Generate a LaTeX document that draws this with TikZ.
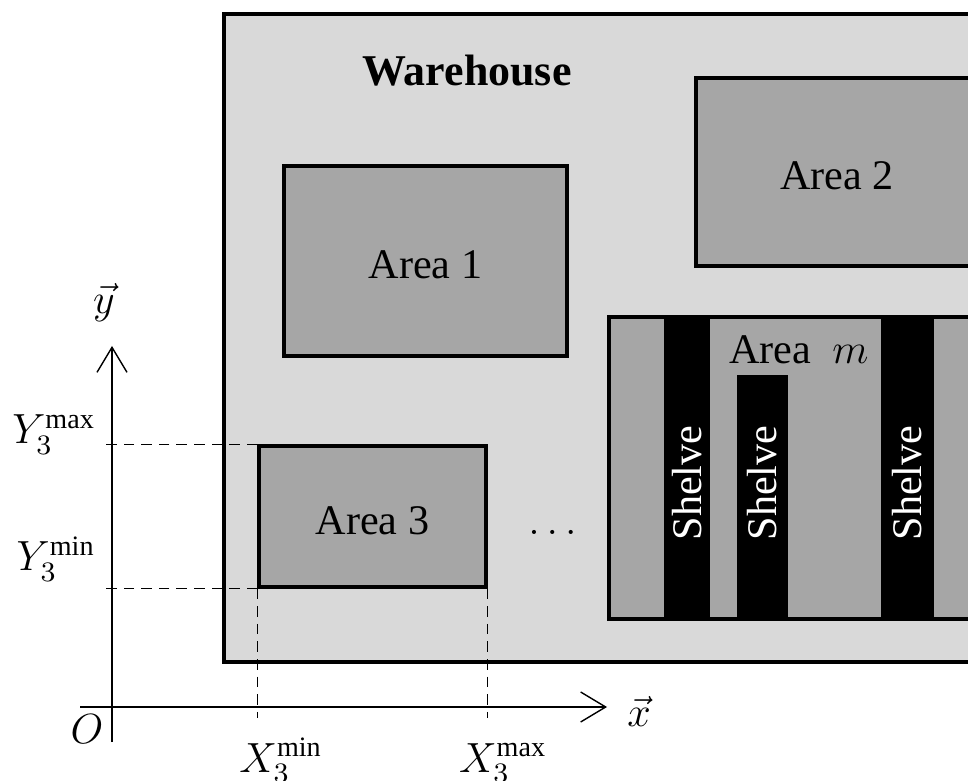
\documentclass[tikz,border=0pt]{standalone}
\usepackage{amsmath,amssymb}
\usepackage{fontspec}
\setmainfont{Liberation Serif}
\usepackage{tikz}
\usetikzlibrary{positioning,arrows.meta,calc}
\definecolor{hallgray}{RGB}{217,217,217}
\definecolor{zonegray}{RGB}{166,166,166}

\begin{document}
\begin{tikzpicture}[font=\fontsize{12}{14}\selectfont,
    zone/.style={draw=black, line width=1pt, fill=zonegray, inner sep=0pt, text height=1em, text depth=0pt},
    shelfbar/.style={fill=black, draw=none},
    shelflabel/.style={rotate=90, text=white},
    axis/.style={-{Straight Barb[length=2.5mm, width=3mm, line width=0.4pt]}, line width=0.4pt},
    guide/.style={dashed, line width=0.3pt, dash pattern=on 3pt off 2pt}]
  \useasboundingbox (0,0) rectangle (9.68,7.8);
  % entrepot
  \draw[line width=1.3pt, fill=hallgray] (2.24,1.18) rectangle (10.5,7.66);
  \node[font=\fontsize{12.5}{14}\selectfont\bfseries] (wh) at (4.67,7.09) {Warehouse};
  % zones
  \node[zone, minimum width=2.83cm, minimum height=1.90cm] (a1) at (4.255,5.19) {Area 1};
  \node[zone, minimum width=2.82cm, minimum height=1.88cm] (a2) at (8.37,6.08) {Area 2};
  \node[zone, minimum width=2.27cm, minimum height=1.41cm] (a3) at (3.725,2.635) {Area 3};
  \node (dots) at (5.56,2.48) {$\dots$};
  % zone m avec etageres
  \draw[zone] (6.09,1.61) rectangle (10.5,4.63);
  \fill[shelfbar] (6.64,1.61) rectangle (7.10,4.63);
  \fill[shelfbar] (7.37,1.61) rectangle (7.88,4.05);
  \fill[shelfbar] (8.81,1.61) rectangle (9.34,4.63);
  \draw[line width=1pt] (6.09,1.61) rectangle (10.5,4.63);
  \node (am) at (7.99,4.30) {Area~~$m$};
  \node[shelflabel] (s1) at (6.87,2.97) {Shelve};
  \node[shelflabel] (s2) at (7.625,2.97) {Shelve};
  \node[shelflabel] (s3) at (9.075,2.97) {Shelve};
  % axes
  \coordinate (O) at (1.12,0.73);
  \coordinate (xend) at (6.07,0.73);
  \coordinate (yend) at (1.12,4.34);
  \draw[axis] (0.80,0.73) -- (xend);
  \draw[axis] (1.12,0.38) -- (yend);
  \node (xl) at (6.39,0.69) {$\vec{x}$};
  \node (yl) at (1.04,4.77) {$\vec{y}$};
  \node[anchor=base] (ol) at (0.87,0.37) {$O$};
  % projections de la zone 3
  \coordinate (hstop) at (1.00,0);
  \coordinate (vstop) at (0,0.62);
  \draw[guide] (a3.north west) -- (a3.north west -| hstop);
  \draw[guide] (a3.south west) -- (a3.south west -| hstop);
  \draw[guide] (a3.south west) -- (a3.south west |- vstop);
  \draw[guide] (a3.south east) -- (a3.south east |- vstop);
  \node[anchor=base] (ymax) at (0.54,3.36) {$Y_3^{\max}$};
  \node[anchor=base] (ymin) at (0.56,2.09) {$Y_3^{\min}$};
  \node[anchor=base] (xmin) at (2.81,0.08) {$X_3^{\min}$};
  \node[anchor=base] (xmax) at (5.03,0.08) {$X_3^{\max}$};
\end{tikzpicture}
\end{document}
